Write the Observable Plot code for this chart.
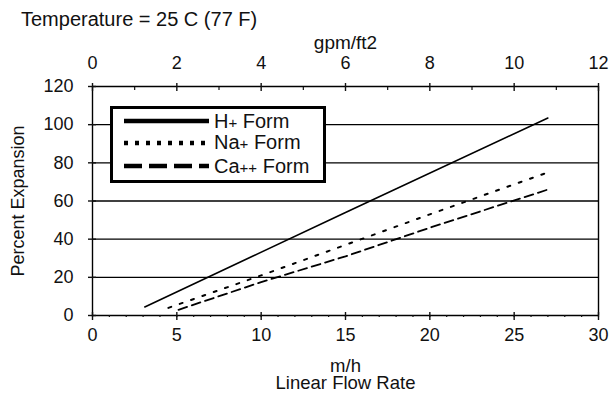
<!DOCTYPE html>
<html><head><meta charset="utf-8">
<script src="https://cdn.jsdelivr.net/npm/d3@7"></script>
<script src="https://cdn.jsdelivr.net/npm/@observablehq/plot@0.6"></script>
<style>
body{margin:0;background:#fff;font-family:"Liberation Sans",Arial,sans-serif;}
#wrap{position:relative;width:609px;height:393px;background:#fff;}
#title{box-sizing:border-box;height:30px;padding:9px 0 0 21px;font-size:20px;line-height:20px;color:#111;white-space:nowrap;}
#legend{position:absolute;left:110px;top:106px;width:216px;height:77px;box-sizing:border-box;border:3px solid #000;background:#fff;}
#legend .row{position:absolute;left:11px;height:24px;display:flex;align-items:center;font-size:20px;color:#111;white-space:nowrap;}
#legend svg{display:block;margin-right:5px;}
#legend .sub{font-size:15px;}
</style></head><body>
<div id="wrap">
<div id="title">Temperature = 25 C (77 F)</div>
<div id="chart"></div>
<div id="legend"></div>
</div>
<script>
// ---- data ----
const seriesNames = ["H+ Form", "Na+ Form", "Ca++ Form"];
const hX = [3.1, 15, 27];
const hY = [4.5, 54, 103.5];
const naX = [4.5, 10, 15, 20, 27];
const naY = [4, 21, 37, 53, 75];
const caX = [5.1, 10, 15, 20, 27];
const caY = [3, 17.5, 31, 46, 66];
const xTicks = [0, 5, 10, 15, 20, 25, 30];
const xMinor = d3.range(0, 31, 1);
const yTicks = [0, 20, 40, 60, 80, 100, 120];
const gpmTicks = [0, 2, 4, 6, 8, 10, 12];
const gpmMinor = [1, 3, 5, 7, 9, 11];
const mhPerGpmAxis = 2.5; // top axis 0..12 spans the same width as 0..30 m/h

const table = (name, xs, ys) => xs.map((x, i) => ({series: name, x, y: ys[i]}));
const hData = table(seriesNames[0], hX, hY);
const naData = table(seriesNames[1], naX, naY);
const caData = table(seriesNames[2], caX, caY);

const chart = Plot.plot({
  width: 609, height: 363,
  marginLeft: 92, marginRight: 11, marginTop: 56, marginBottom: 78,
  style: {fontFamily: "Liberation Sans, Arial, sans-serif", fontSize: "18px", color: "#111", background: "white"},
  x: {domain: [0, 30]},
  y: {domain: [0, 120]},
  marks: [
    Plot.ruleY(yTicks, {stroke: "black", strokeWidth: 1.4}),
    Plot.ruleX([0, 30], {stroke: "black", strokeWidth: 1.4}),
    // left axis
    Plot.axisY(yTicks, {tickSize: 8, dx: 4, text: null, label: null, strokeWidth: 1.4}),
    Plot.axisY(yTicks, {tickSize: 0, tickPadding: 19, label: null, fontSize: 18}),
    // bottom axis
    Plot.axisX(xTicks, {tickSize: 8, dy: -3, text: null, label: null, strokeWidth: 1.4}),
    Plot.axisX(xMinor, {tickSize: 2, text: null, label: null, strokeWidth: 1.2}),
    Plot.axisX(xTicks, {tickSize: 0, tickPadding: 13, label: null, fontSize: 18}),
    // top axis (gpm/ft2)
    Plot.axisX(gpmTicks.map(g => g * mhPerGpmAxis), {anchor: "top", tickSize: 8, dy: 4, text: null, label: null, strokeWidth: 1.4}),
    Plot.axisX(gpmMinor.map(g => g * mhPerGpmAxis), {anchor: "top", tickSize: -3, text: null, label: null, strokeWidth: 1.2}),
    Plot.axisX(gpmTicks.map(g => g * mhPerGpmAxis), {anchor: "top", tickSize: 0, tickPadding: 18, label: null, fontSize: 18, tickFormat: d => d / mhPerGpmAxis}),
    // axis titles
    Plot.text(["gpm/ft2"], {frameAnchor: "top", dy: -38, lineAnchor: "bottom", fontSize: 19}),
    Plot.text(["m/h\nLinear Flow Rate"], {frameAnchor: "bottom", dy: 45, lineAnchor: "top", lineHeight: 0.9, fontSize: 18.5}),
    Plot.text(["Percent Expansion"], {frameAnchor: "left", dx: -74, rotate: -90, textAnchor: "middle", lineAnchor: "middle", fontSize: 18}),
    // data
    Plot.line(hData, {x: "x", y: "y", stroke: "black", strokeWidth: 1.6}),
    Plot.line(naData, {x: "x", y: "y", stroke: "black", strokeWidth: 2, strokeDasharray: "3,9"}),
    Plot.line(caData, {x: "x", y: "y", stroke: "black", strokeWidth: 1.8, strokeDasharray: "9,5"})
  ]
});
document.getElementById("chart").appendChild(chart);

// legend
const dashes = [null, "4,7", "18,7"];
const tops = [0, 21.5, 45];
const legend = document.getElementById("legend");
seriesNames.forEach((name, i) => {
  const row = document.createElement("div");
  row.className = "row";
  row.style.top = tops[i] + "px";
  const label = name.replace(/\+/g, '<span class="sub">+</span>');
  row.innerHTML = `<svg width="85" height="10"><line x1="0" x2="85" y1="5" y2="5" stroke="black" stroke-width="4.5" ${dashes[i] ? `stroke-dasharray="${dashes[i]}"` : ""}/></svg><span>${label}</span>`;
  legend.appendChild(row);
});
</script>
</body></html>
